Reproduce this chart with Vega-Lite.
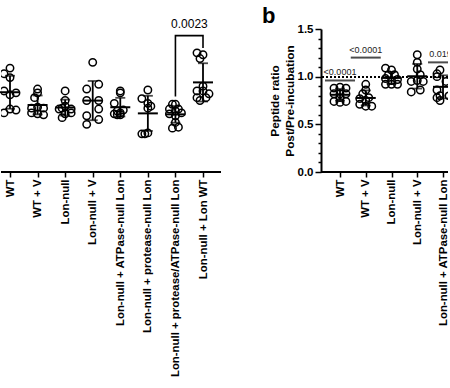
{
  "$schema": "https://vega.github.io/schema/vega-lite/v6.json",
  "padding": {"left": 0, "top": 5, "right": 0, "bottom": 0},
  "spacing": 40,
  "config": {
    "font": "Liberation Sans",
    "view": {"stroke": null},
    "axis": {"labelFont": "Liberation Sans", "labelFontWeight": "bold", "labelColor": "black", "tickColor": "black", "domainColor": "black", "titleFont": "Liberation Sans", "titleFontWeight": "bold", "titleColor": "black", "grid": false, "tickWidth": 1.5, "domainWidth": 2}
  },
  "datasets": {
    "left": [
      {"g": "WT", "s": 3, "v": 1.09}, {"g": "WT", "s": 1, "v": 1.03}, {"g": "WT", "s": 3, "v": 0.99}, {"g": "WT", "s": 1, "v": 0.85}, {"g": "WT", "s": 5, "v": 0.83}, {"g": "WT", "s": 3, "v": 0.81}, {"g": "WT", "s": 1, "v": 0.62}, {"g": "WT", "s": 3, "v": 0.66}, {"g": "WT", "s": 5, "v": 0.65},
      {"g": "WT + V", "s": 3, "v": 0.87}, {"g": "WT + V", "s": 3, "v": 0.83}, {"g": "WT + V", "s": 2, "v": 0.78}, {"g": "WT + V", "s": 1, "v": 0.67}, {"g": "WT + V", "s": 3, "v": 0.68}, {"g": "WT + V", "s": 5, "v": 0.67}, {"g": "WT + V", "s": 1, "v": 0.62}, {"g": "WT + V", "s": 3, "v": 0.61}, {"g": "WT + V", "s": 5, "v": 0.60},
      {"g": "Lon-null", "s": 3, "v": 0.85}, {"g": "Lon-null", "s": 3, "v": 0.75}, {"g": "Lon-null", "s": 2, "v": 0.67}, {"g": "Lon-null", "s": 3, "v": 0.69}, {"g": "Lon-null", "s": 5, "v": 0.66}, {"g": "Lon-null", "s": 2, "v": 0.57}, {"g": "Lon-null", "s": 3, "v": 0.61}, {"g": "Lon-null", "s": 5, "v": 0.62}, {"g": "Lon-null", "s": 1, "v": 0.66},
      {"g": "Lon-null + V", "s": 3, "v": 1.15}, {"g": "Lon-null + V", "s": 5, "v": 0.92}, {"g": "Lon-null + V", "s": 1, "v": 0.87}, {"g": "Lon-null + V", "s": 1, "v": 0.75}, {"g": "Lon-null + V", "s": 5, "v": 0.75}, {"g": "Lon-null + V", "s": 5, "v": 0.66}, {"g": "Lon-null + V", "s": 1, "v": 0.59}, {"g": "Lon-null + V", "s": 5, "v": 0.55}, {"g": "Lon-null + V", "s": 1, "v": 0.50},
      {"g": "Lon-null + ATPase-null Lon", "s": 3, "v": 0.85}, {"g": "Lon-null + ATPase-null Lon", "s": 3, "v": 0.83}, {"g": "Lon-null + ATPase-null Lon", "s": 1, "v": 0.72}, {"g": "Lon-null + ATPase-null Lon", "s": 2, "v": 0.64}, {"g": "Lon-null + ATPase-null Lon", "s": 1, "v": 0.61}, {"g": "Lon-null + ATPase-null Lon", "s": 3, "v": 0.62}, {"g": "Lon-null + ATPase-null Lon", "s": 4, "v": 0.65}, {"g": "Lon-null + ATPase-null Lon", "s": 3, "v": 0.60}, {"g": "Lon-null + ATPase-null Lon", "s": 2, "v": 0.60},
      {"g": "Lon-null + protease-null Lon", "s": 3, "v": 0.86}, {"g": "Lon-null + protease-null Lon", "s": 1, "v": 0.77}, {"g": "Lon-null + protease-null Lon", "s": 3, "v": 0.72}, {"g": "Lon-null + protease-null Lon", "s": 4, "v": 0.69}, {"g": "Lon-null + protease-null Lon", "s": 3, "v": 0.67}, {"g": "Lon-null + protease-null Lon", "s": 1, "v": 0.40}, {"g": "Lon-null + protease-null Lon", "s": 2, "v": 0.40}, {"g": "Lon-null + protease-null Lon", "s": 3, "v": 0.41},
      {"g": "Lon-null + protease/ATPase-null Lon", "s": 2, "v": 0.71}, {"g": "Lon-null + protease/ATPase-null Lon", "s": 3, "v": 0.71}, {"g": "Lon-null + protease/ATPase-null Lon", "s": 1, "v": 0.66}, {"g": "Lon-null + protease/ATPase-null Lon", "s": 3, "v": 0.64}, {"g": "Lon-null + protease/ATPase-null Lon", "s": 4, "v": 0.66}, {"g": "Lon-null + protease/ATPase-null Lon", "s": 5, "v": 0.62}, {"g": "Lon-null + protease/ATPase-null Lon", "s": 1, "v": 0.61}, {"g": "Lon-null + protease/ATPase-null Lon", "s": 3, "v": 0.59}, {"g": "Lon-null + protease/ATPase-null Lon", "s": 3, "v": 0.52}, {"g": "Lon-null + protease/ATPase-null Lon", "s": 2, "v": 0.46}, {"g": "Lon-null + protease/ATPase-null Lon", "s": 4, "v": 0.47},
      {"g": "Lon-null + Lon WT", "s": 1, "v": 1.25}, {"g": "Lon-null + Lon WT", "s": 3, "v": 1.23}, {"g": "Lon-null + Lon WT", "s": 2, "v": 1.19}, {"g": "Lon-null + Lon WT", "s": 3, "v": 0.90}, {"g": "Lon-null + Lon WT", "s": 1, "v": 0.85}, {"g": "Lon-null + Lon WT", "s": 3, "v": 0.85}, {"g": "Lon-null + Lon WT", "s": 5, "v": 0.82}, {"g": "Lon-null + Lon WT", "s": 1, "v": 0.78}, {"g": "Lon-null + Lon WT", "s": 4, "v": 0.78}, {"g": "Lon-null + Lon WT", "s": 2, "v": 0.75}
    ],
    "bracket": [
      {"g": "Lon-null + protease/ATPase-null Lon", "v": 0.80, "o": 1},
      {"g": "Lon-null + protease/ATPase-null Lon", "v": 1.43, "o": 2},
      {"g": "Lon-null + Lon WT", "v": 1.43, "o": 3},
      {"g": "Lon-null + Lon WT", "v": 1.31, "o": 4}
    ],
    "leftlabel": [
      {"g": "Lon-null + protease/ATPase-null Lon", "v": 1.55, "t": "0.0023"}
    ],
    "right": [
      {"g": "WT", "s": 1, "v": 0.88}, {"g": "WT", "s": 3, "v": 0.89}, {"g": "WT", "s": 5, "v": 0.88}, {"g": "WT", "s": 1, "v": 0.82}, {"g": "WT", "s": 3, "v": 0.82}, {"g": "WT", "s": 5, "v": 0.82}, {"g": "WT", "s": 3, "v": 0.78}, {"g": "WT", "s": 1, "v": 0.74}, {"g": "WT", "s": 3, "v": 0.73}, {"g": "WT", "s": 5, "v": 0.74},
      {"g": "WT + V", "s": 3, "v": 0.92}, {"g": "WT + V", "s": 3, "v": 0.86}, {"g": "WT + V", "s": 2, "v": 0.82}, {"g": "WT + V", "s": 4, "v": 0.78}, {"g": "WT + V", "s": 1, "v": 0.77}, {"g": "WT + V", "s": 3, "v": 0.75}, {"g": "WT + V", "s": 1, "v": 0.71}, {"g": "WT + V", "s": 3, "v": 0.69}, {"g": "WT + V", "s": 5, "v": 0.69},
      {"g": "Lon-null", "s": 1, "v": 1.09}, {"g": "Lon-null", "s": 3, "v": 1.07}, {"g": "Lon-null", "s": 2, "v": 1.02}, {"g": "Lon-null", "s": 4, "v": 1.02}, {"g": "Lon-null", "s": 1, "v": 0.98}, {"g": "Lon-null", "s": 3, "v": 0.96}, {"g": "Lon-null", "s": 5, "v": 0.97}, {"g": "Lon-null", "s": 1, "v": 0.92}, {"g": "Lon-null", "s": 3, "v": 0.92}, {"g": "Lon-null", "s": 5, "v": 0.92},
      {"g": "Lon-null + V", "s": 3, "v": 1.23}, {"g": "Lon-null + V", "s": 3, "v": 1.15}, {"g": "Lon-null + V", "s": 3, "v": 1.08}, {"g": "Lon-null + V", "s": 4, "v": 1.02}, {"g": "Lon-null + V", "s": 1, "v": 0.95}, {"g": "Lon-null + V", "s": 3, "v": 0.96}, {"g": "Lon-null + V", "s": 5, "v": 0.95}, {"g": "Lon-null + V", "s": 1, "v": 0.84}, {"g": "Lon-null + V", "s": 4, "v": 0.86},
      {"g": "Lon-null + ATPase-null Lon", "s": 1, "v": 1.03}, {"g": "Lon-null + ATPase-null Lon", "s": 2, "v": 1.07}, {"g": "Lon-null + ATPase-null Lon", "s": 1, "v": 1.00}, {"g": "Lon-null + ATPase-null Lon", "s": 1, "v": 0.86}, {"g": "Lon-null + ATPase-null Lon", "s": 2, "v": 0.80}, {"g": "Lon-null + ATPase-null Lon", "s": 1, "v": 0.78}, {"g": "Lon-null + ATPase-null Lon", "s": 2, "v": 0.75}, {"g": "Lon-null + ATPase-null Lon", "s": 4, "v": 0.95}, {"g": "Lon-null + ATPase-null Lon", "s": 5, "v": 0.80}
    ],
    "sig": [
      {"g": "WT", "v": 0.96, "t": "<0.0001"},
      {"g": "WT + V", "v": 1.2, "t": "<0.0001"},
      {"g": "Lon-null + ATPase-null Lon", "v": 1.15, "t": "0.0192"}
    ]
  },
  "hconcat": [
    {
      "width": 220,
      "height": 143,
      "encoding": {
        "x": {"field": "g", "type": "nominal", "title": null,
          "scale": {"type": "point", "domain": ["WT", "WT + V", "Lon-null", "Lon-null + V", "Lon-null + ATPase-null Lon", "Lon-null + protease-null Lon", "Lon-null + protease/ATPase-null Lon", "Lon-null + Lon WT"], "range": [9, 202], "padding": 0},
          "axis": {"labelAngle": -90, "labelFontSize": 11.4, "labelLimit": 400, "tickSize": 5, "domain": false, "labelPadding": 2}},
        "y": {"field": "v", "type": "quantitative", "scale": {"domain": [0, 1.5], "nice": false}, "axis": null}
      },
      "layer": [
        {"data": {"name": "left"}, "mark": {"type": "rule", "strokeWidth": 2, "color": "black"}, "encoding": {"x": null, "y": {"datum": 0, "type": "quantitative"}}},
        {"data": {"name": "left"}, "mark": {"type": "point", "shape": "circle", "filled": false, "color": "black", "size": 55, "strokeWidth": 1.5, "opacity": 1, "clip": true},
          "encoding": {"xOffset": {"field": "s", "type": "ordinal", "scale": {"type": "point", "domain": [1, 2, 3, 4, 5], "range": [-6, 6], "padding": 0}}}},
        {"data": {"name": "left"}, "mark": {"type": "errorbar", "extent": "stdev", "color": "black", "thickness": 1.8, "ticks": {"size": 10, "thickness": 1.8}}},
        {"data": {"name": "left"}, "mark": {"type": "tick", "color": "black", "size": 20, "thickness": 2}, "encoding": {"y": {"aggregate": "mean", "field": "v", "type": "quantitative"}}},
        {"data": {"name": "bracket"}, "mark": {"type": "line", "color": "black", "strokeWidth": 1.6, "strokeCap": "square"}, "encoding": {"order": {"field": "o", "type": "quantitative"}}},
        {"data": {"name": "leftlabel"}, "mark": {"type": "text", "fontSize": 12, "color": "black", "dx": 14, "baseline": "middle"}, "encoding": {"text": {"field": "t"}}}
      ]
    },
    {
      "width": 127,
      "height": 143,
      "title": {"text": "b", "anchor": "start", "frame": "bounds", "fontSize": 22, "fontWeight": "bold", "font": "Liberation Sans", "color": "black", "dx": -7, "offset": -5},
      "encoding": {
        "x": {"field": "g", "type": "nominal", "title": null,
          "scale": {"type": "point", "domain": ["WT", "WT + V", "Lon-null", "Lon-null + V", "Lon-null + ATPase-null Lon"], "range": [19, 122], "padding": 0},
          "axis": {"labelAngle": -90, "labelFontSize": 11.4, "labelLimit": 400, "tickSize": 5, "domain": false, "labelPadding": 2}},
        "y": {"field": "v", "type": "quantitative", "scale": {"domain": [0, 1.5], "nice": false},
          "axis": {"values": [0, 0.1, 0.2, 0.3, 0.4, 0.5, 0.6, 0.7, 0.8, 0.9, 1, 1.1, 1.2, 1.3, 1.4, 1.5],
            "labelExpr": "abs(datum.value*2 - round(datum.value*2)) < 0.001 ? format(datum.value, '.1f') : ''",
            "tickSize": {"condition": {"test": "abs(datum.value*2 - round(datum.value*2)) < 0.001", "value": 6}, "value": 3},
            "labelFontSize": 11.5, "labelPadding": 2, "labelOverlap": false,
            "title": ["Peptide ratio", "Post/Pre-incubation"], "titleFontSize": 11.8, "titlePadding": 2, "titleLineHeight": 15}}
      },
      "layer": [
        {"data": {"name": "right"}, "mark": {"type": "rule", "strokeWidth": 2, "color": "black"}, "encoding": {"x": null, "y": {"datum": 0, "type": "quantitative"}}},
        {"data": {"name": "right"}, "mark": {"type": "rule", "strokeWidth": 1.5, "color": "black", "strokeDash": [2, 2]}, "encoding": {"x": null, "y": {"datum": 1, "type": "quantitative"}}},
        {"data": {"name": "right"}, "mark": {"type": "point", "shape": "circle", "filled": false, "color": "black", "size": 55, "strokeWidth": 1.5, "opacity": 1, "clip": true},
          "encoding": {"xOffset": {"field": "s", "type": "ordinal", "scale": {"type": "point", "domain": [1, 2, 3, 4, 5], "range": [-6, 6], "padding": 0}}}},
        {"data": {"name": "right"}, "mark": {"type": "errorbar", "extent": "stdev", "color": "black", "thickness": 1.8, "ticks": {"size": 10, "thickness": 1.8}}},
        {"data": {"name": "right"}, "mark": {"type": "tick", "color": "black", "size": 20, "thickness": 2, "clip": true}, "encoding": {"y": {"aggregate": "mean", "field": "v", "type": "quantitative"}}},
        {"data": {"name": "sig"}, "mark": {"type": "tick", "color": "black", "size": 30, "thickness": 2, "clip": true}},
        {"data": {"name": "sig"}, "mark": {"type": "text", "fontSize": 9, "color": "#222222", "baseline": "bottom", "dy": -3, "clip": true}, "encoding": {"text": {"field": "t"}}}
      ]
    }
  ]
}
